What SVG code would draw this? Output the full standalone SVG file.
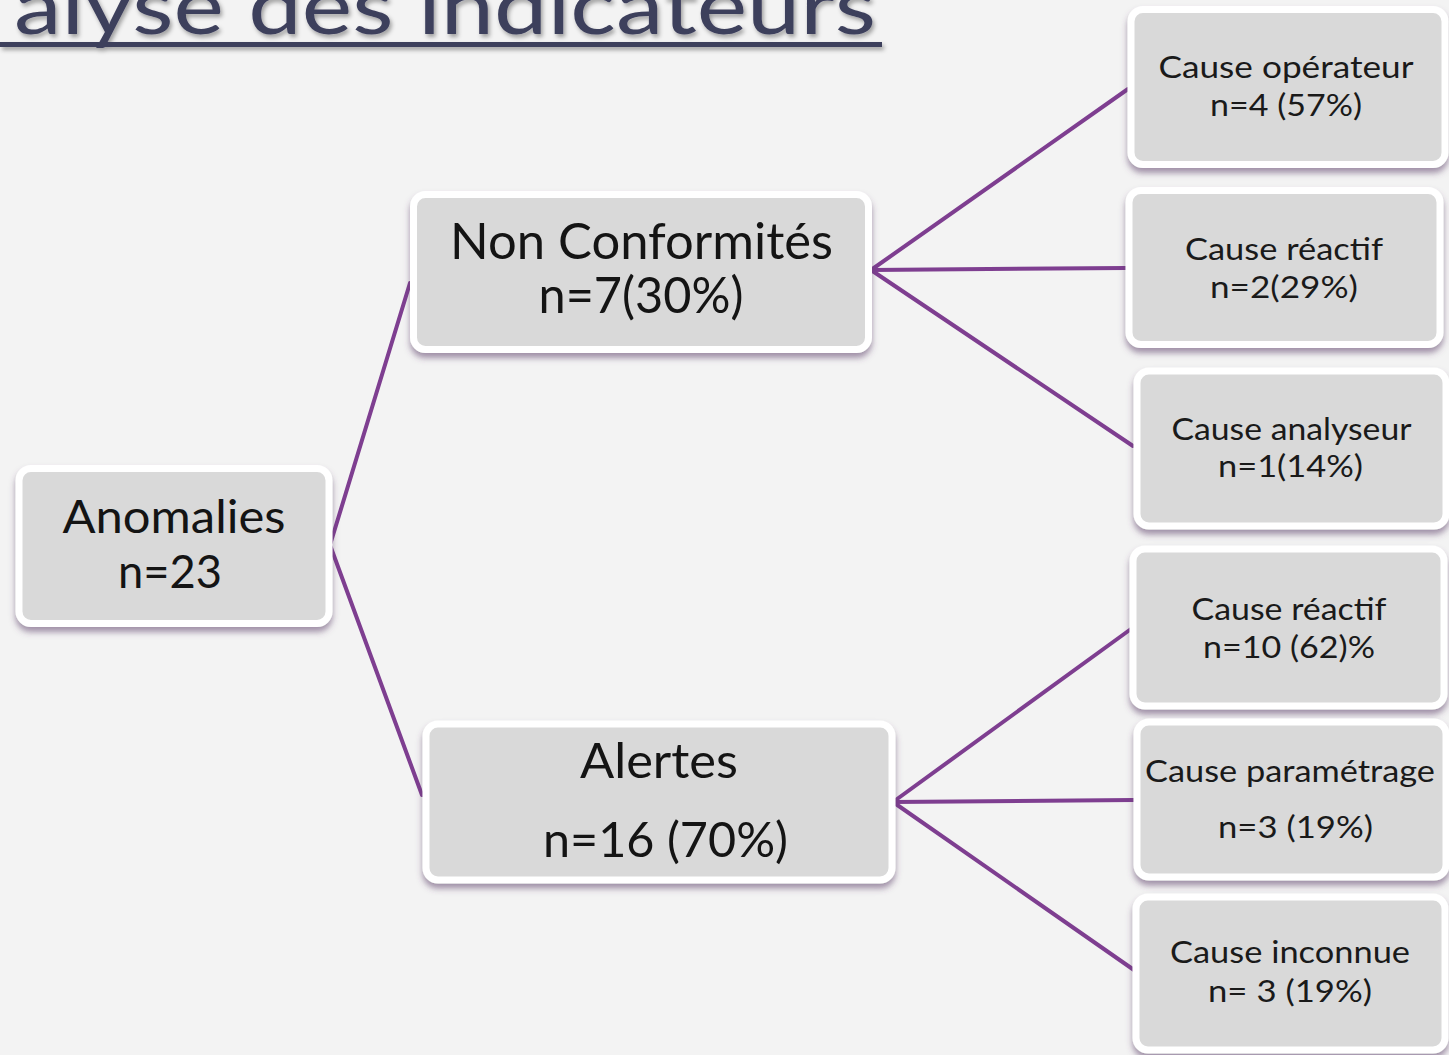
<svg xmlns="http://www.w3.org/2000/svg" width="1449" height="1055" viewBox="0 0 1449 1055">
  <defs>
    <filter id="boxShadow" x="-10%" y="-10%" width="120%" height="130%">
      <feDropShadow dx="0" dy="5" stdDeviation="3" flood-color="#5b3f6b" flood-opacity="0.55"/>
    </filter>
    <filter id="titleShadow" x="-5%" y="-50%" width="110%" height="200%">
      <feDropShadow dx="2" dy="3" stdDeviation="2" flood-color="#000000" flood-opacity="0.35"/>
    </filter>
    <style>
      .box { fill: #d9d9d9; stroke: #ffffff; stroke-width: 7; }
      .big { font-family: Lato, "Liberation Sans", sans-serif; fill: #141414; text-anchor: middle; }
      .small { font-family: Lato, "Liberation Sans", sans-serif; font-size: 31px; fill: #1a1a1a; text-anchor: middle; }
      .conn { stroke: #7e3e90; stroke-width: 4; fill: none; stroke-linecap: round; }
      .title { font-family: Lato, "Liberation Sans", sans-serif; font-size: 80px; fill: #3d3f5c; }
    </style>
  </defs>

  <rect x="0" y="0" width="1449" height="1055" fill="#f3f3f3"/>

  <g id="title" filter="url(#titleShadow)">
    <text class="title" x="14" y="34" textLength="862" lengthAdjust="spacingAndGlyphs">alyse des indicateurs</text>
    <rect x="0" y="42" width="882" height="5" fill="#3d3f5c"/>
  </g>

  <g id="connectors">
    <line class="conn" x1="330" y1="545" x2="410" y2="283"/>
    <line class="conn" x1="330" y1="545" x2="422" y2="795"/>
    <line class="conn" x1="871" y1="270" x2="1128" y2="89"/>
    <line class="conn" x1="871" y1="270" x2="1126" y2="268"/>
    <line class="conn" x1="871" y1="270" x2="1133" y2="446"/>
    <line class="conn" x1="893" y1="802" x2="1131" y2="629"/>
    <line class="conn" x1="893" y1="802" x2="1134" y2="800"/>
    <line class="conn" x1="893" y1="802" x2="1134" y2="970"/>
  </g>

  <g id="node-anomalies">
    <rect class="box" x="19" y="468.5" width="310" height="155" rx="12" filter="url(#boxShadow)"/>
    <text class="big" x="174" y="533" font-size="46" textLength="223" lengthAdjust="spacingAndGlyphs">Anomalies</text>
    <text class="big" x="170" y="588" font-size="46" textLength="104" lengthAdjust="spacingAndGlyphs">n=23</text>
  </g>

  <g id="node-non-conformites">
    <rect class="box" x="413.5" y="194.5" width="455" height="155" rx="12" filter="url(#boxShadow)"/>
    <text class="big" x="641.5" y="259" font-size="50" textLength="383" lengthAdjust="spacingAndGlyphs">Non Conformités</text>
    <text class="big" x="641" y="313" font-size="50" textLength="205" lengthAdjust="spacingAndGlyphs">n=7(30%)</text>
  </g>

  <g id="node-alertes">
    <rect class="box" x="426" y="724" width="466" height="156" rx="12" filter="url(#boxShadow)"/>
    <text class="big" x="659" y="778" font-size="49" textLength="158" lengthAdjust="spacingAndGlyphs">Alertes</text>
    <text class="big" x="665.5" y="857" font-size="49" textLength="245" lengthAdjust="spacingAndGlyphs">n=16 (70%)</text>
  </g>

  <g id="node-cause-operateur">
    <rect class="box" x="1131" y="9.5" width="314" height="155" rx="12" filter="url(#boxShadow)"/>
    <text class="small" x="1286" y="78" textLength="255" lengthAdjust="spacingAndGlyphs">Cause opérateur</text>
    <text class="small" x="1286" y="116" textLength="152" lengthAdjust="spacingAndGlyphs">n=4 (57%)</text>
  </g>

  <g id="node-cause-reactif-nc">
    <rect class="box" x="1129" y="190.5" width="311" height="154" rx="12" filter="url(#boxShadow)"/>
    <text class="small" x="1284" y="260" textLength="198" lengthAdjust="spacingAndGlyphs">Cause réactif</text>
    <text class="small" x="1284" y="298" textLength="148" lengthAdjust="spacingAndGlyphs">n=2(29%)</text>
  </g>

  <g id="node-cause-analyseur">
    <rect class="box" x="1137" y="371" width="309" height="155" rx="12" filter="url(#boxShadow)"/>
    <text class="small" x="1291.5" y="440" textLength="240" lengthAdjust="spacingAndGlyphs">Cause analyseur</text>
    <text class="small" x="1290.5" y="477" textLength="145" lengthAdjust="spacingAndGlyphs">n=1(14%)</text>
  </g>

  <g id="node-cause-reactif-alertes">
    <rect class="box" x="1133" y="549" width="311" height="157" rx="12" filter="url(#boxShadow)"/>
    <text class="small" x="1289" y="620" textLength="195" lengthAdjust="spacingAndGlyphs">Cause réactif</text>
    <text class="small" x="1289" y="658" textLength="172" lengthAdjust="spacingAndGlyphs">n=10 (62)%</text>
  </g>

  <g id="node-cause-parametrage">
    <rect class="box" x="1137" y="722" width="309" height="155" rx="12" filter="url(#boxShadow)"/>
    <text class="small" x="1290" y="782" textLength="290" lengthAdjust="spacingAndGlyphs">Cause paramétrage</text>
    <text class="small" x="1295.5" y="838" textLength="155" lengthAdjust="spacingAndGlyphs">n=3 (19%)</text>
  </g>

  <g id="node-cause-inconnue">
    <rect class="box" x="1136" y="897" width="309" height="153" rx="12" filter="url(#boxShadow)"/>
    <text class="small" x="1290" y="963" textLength="240" lengthAdjust="spacingAndGlyphs">Cause inconnue</text>
    <text class="small" x="1290" y="1002" textLength="164" lengthAdjust="spacingAndGlyphs">n= 3 (19%)</text>
  </g>
</svg>
